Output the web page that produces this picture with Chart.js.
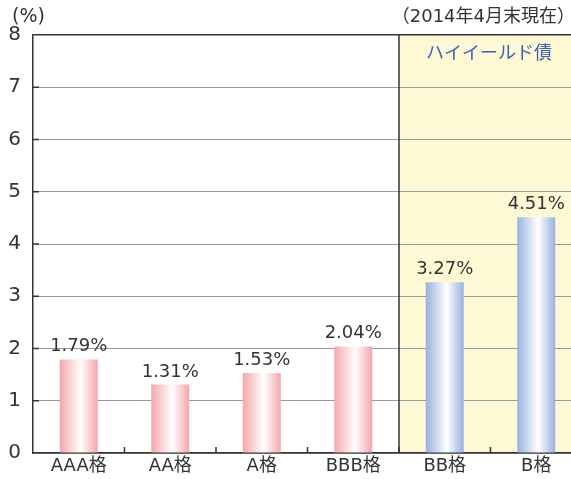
<!DOCTYPE html>
<html>
<head>
<meta charset="utf-8">
<script src="https://cdn.jsdelivr.net/npm/chart.js@4.4.0/dist/chart.umd.min.js"></script>
<style>
    body { margin: 0; overflow: hidden; background: #fff; }
    #wrap { width: 600px; height: 479px; position: relative; }
</style>
</head>
<body>
<div id="wrap"><canvas id="grafico"></canvas></div>
<script>
// dados
let categorias = ["AAA格", "AA格", "A格", "BBB格", "BB格", "B格"];
let rendimentos = [1.79, 1.31, 1.53, 2.04, 3.27, 4.51];
let rotulos = ["1.79%", "1.31%", "1.53%", "2.04%", "3.27%", "4.51%"];
let inicioHighYield = 4;   // indice da primeira categoria "ハイイールド債"
let yMin = 0, yMax = 8, yPasso = 1;

let fonte = "'DejaVu Sans', 'Noto Sans CJK JP', sans-serif";
let fonteJp = "'Noto Sans CJK JP', sans-serif";

function gradiente(ctx, x0, x1, cor) {
    let g = ctx.createLinearGradient(x0, 0, x1, 0);
    g.addColorStop(0, cor);
    g.addColorStop(0.55, "#ffffff");
    g.addColorStop(1, cor);
    return g;
}

function corBarra(context) {
    let chart = context.chart;
    let cor = context.dataIndex >= inicioHighYield ? "#97b1de" : "#f4a6aa";
    if (!chart.chartArea || !chart.scales.x) return cor;
    let x = chart.scales.x;
    let cx = x.getPixelForValue(context.dataIndex);
    let w = (x.width / categorias.length) * 0.415;
    return gradiente(chart.ctx, cx - w / 2, cx + w / 2, cor);
}

const extras = {
    id: "extras",
    beforeDraw(chart) {
        let ctx = chart.ctx, a = chart.chartArea, x = chart.scales.x;
        let xDiv = (x.getPixelForValue(inicioHighYield - 1) + x.getPixelForValue(inicioHighYield)) / 2;
        ctx.save();
        ctx.fillStyle = "#fef9d4";
        ctx.fillRect(xDiv, a.top, a.right - xDiv, a.bottom - a.top);
        ctx.restore();
    },
    afterDatasetsDraw(chart) {
        let ctx = chart.ctx, a = chart.chartArea, x = chart.scales.x, y = chart.scales.y;
        ctx.save();
        // divisoria
        let xDiv = (x.getPixelForValue(inicioHighYield - 1) + x.getPixelForValue(inicioHighYield)) / 2;
        ctx.strokeStyle = "#333";
        ctx.lineWidth = 1.5;
        ctx.beginPath();
        ctx.moveTo(xDiv, a.top);
        ctx.lineTo(xDiv, a.bottom);
        ctx.stroke();

        // marcas internas
        for (let i = 0; i < categorias.length - 1; i++) {
            let xm = (x.getPixelForValue(i) + x.getPixelForValue(i + 1)) / 2;
            ctx.beginPath();
            ctx.moveTo(xm, a.bottom);
            ctx.lineTo(xm, a.bottom - 6);
            ctx.stroke();
        }
        for (let v = yMin + yPasso; v < yMax; v += yPasso) {
            let yv = y.getPixelForValue(v);
            ctx.beginPath();
            ctx.moveTo(a.left, yv);
            ctx.lineTo(a.left + 6, yv);
            ctx.stroke();
        }

        // rotulos das barras
        ctx.fillStyle = "#333";
        ctx.font = "18px " + fonte;
        ctx.textAlign = "center";
        ctx.textBaseline = "alphabetic";
        for (let i = 0; i < rendimentos.length; i++) {
            ctx.fillText(rotulos[i], x.getPixelForValue(i), y.getPixelForValue(rendimentos[i]) - 8);
        }

        // textos
        ctx.font = "19px " + fonte;
        ctx.textBaseline = "middle";
        ctx.textAlign = "left";
        ctx.fillText("(%)", 12, 17);
        ctx.textAlign = "right";
        ctx.font = "18px " + fonte;
        ctx.fillText("（2014年4月末現在）", 575, 17);
        ctx.fillStyle = "#3a62b0";
        ctx.textAlign = "center";
        ctx.font = "18px " + fonteJp;
        ctx.fillText("ハイイールド債", 489, 52);
        ctx.restore();
    }
};

new Chart("grafico", {
    type: "bar",
    data: {
        labels: categorias,
        datasets: [{
            data: rendimentos,
            backgroundColor: corBarra,
            borderWidth: 0,
            barPercentage: 0.415,
            categoryPercentage: 1
        }]
    },
    options: {
        responsive: true,
        maintainAspectRatio: false,
        animation: false,
        devicePixelRatio: 1,
        layout: { padding: { top: 35, right: 18, left: 0, bottom: 0 } },
        plugins: {
            legend: { display: false },
            tooltip: { enabled: false }
        },
        scales: {
            x: {
                grid: { display: false, drawTicks: false },
                border: { display: true, color: "#333", width: 1.5 },
                ticks: { color: "#333", font: { family: fonte, size: 18 }, padding: 3 },
                afterFit: (s) => { s.height = 26; }
            },
            y: {
                min: yMin,
                max: yMax,
                ticks: {
                    stepSize: yPasso,
                    color: "#333",
                    font: { family: fonte, size: 20 },
                    padding: 12
                },
                grid: {
                    drawTicks: false,
                    color: (c) => c.tick && c.tick.value === yMax ? "#333" : "#999",
                    lineWidth: (c) => c.tick && c.tick.value === yMax ? 1.5 : 1
                },
                border: { display: true, color: "#333", width: 1.5 },
                afterFit: (s) => { s.width = 33; }
            }
        }
    },
    plugins: [extras]
});
</script>
</body>
</html>
